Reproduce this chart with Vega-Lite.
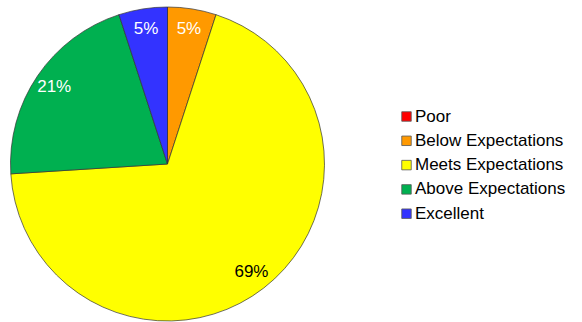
{
  "$schema": "https://vega.github.io/schema/vega-lite/v6.json",
  "width": 335,
  "height": 328,
  "autosize": "none",
  "padding": {"left": 0, "top": 0, "right": 247, "bottom": 0},
  "background": "white",
  "data": {
    "values": [
      {"rating": "Poor", "rank": 1, "share": 0},
      {"rating": "Below Expectations", "rank": 2, "share": 0.05},
      {"rating": "Meets Expectations", "rank": 3, "share": 0.69},
      {"rating": "Above Expectations", "rank": 4, "share": 0.21},
      {"rating": "Excellent", "rank": 5, "share": 0.05}
    ]
  },
  "encoding": {
    "theta": {"field": "share", "type": "quantitative", "stack": true},
    "order": {"field": "rank", "type": "ordinal"}
  },
  "layer": [
    {
      "mark": {"type": "arc", "outerRadius": 157, "stroke": "#333333", "strokeWidth": 0.7},
      "encoding": {
        "color": {
          "field": "rating",
          "type": "nominal",
          "sort": ["Poor", "Below Expectations", "Meets Expectations", "Above Expectations", "Excellent"],
          "scale": {
            "domain": ["Poor", "Below Expectations", "Meets Expectations", "Above Expectations", "Excellent"],
            "range": ["#ff0000", "#ff9900", "#ffff00", "#00b050", "#3333ff"]
          },
          "legend": {
            "title": null,
            "orient": "none",
            "legendX": 398,
            "legendY": 108,
            "padding": 0,
            "symbolType": "square",
            "symbolSize": 90,
            "symbolStrokeColor": "#555555",
            "symbolStrokeWidth": 0.8,
            "symbolOpacity": 1,
            "labelFont": "Liberation Sans",
            "labelFontSize": 17,
            "labelColor": "#000000",
            "labelOffset": 0,
            "rowPadding": 6.3,
            "labelLimit": 300
          }
        }
      }
    },
    {
      "transform": [{"filter": "datum.share > 0"}],
      "mark": {"type": "text", "radius": 137, "font": "Liberation Sans", "fontSize": 17, "align": "center", "baseline": "middle"},
      "encoding": {
        "text": {"field": "share", "type": "quantitative", "format": ".0%"},
        "color": {
          "condition": {"test": "datum.rating === 'Meets Expectations'", "value": "#000000"},
          "value": "#ffffff"
        }
      }
    }
  ]
}
